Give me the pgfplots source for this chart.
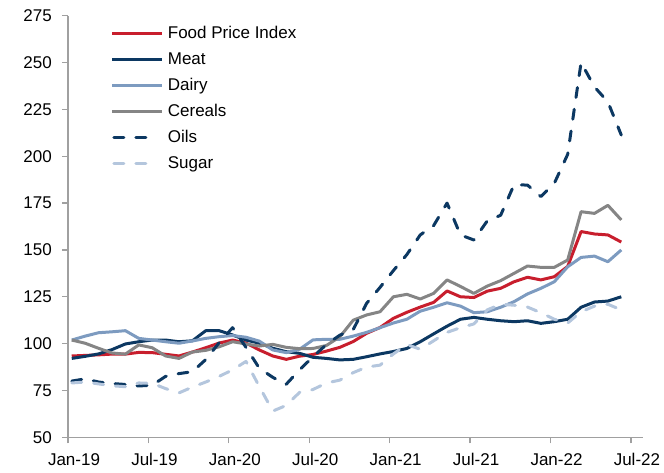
\documentclass[border=0pt]{standalone}
\usepackage{pgfplots}
\pgfplotsset{compat=1.18}
\usepackage{pgfplotstable}
\usepackage{fontspec}
\setmainfont{Liberation Sans}
\definecolor{cfpi}{RGB}{200,30,45}
\definecolor{cnavy}{RGB}{12,56,98}
\definecolor{cdairy}{RGB}{125,155,192}
\definecolor{cgrey}{RGB}{133,133,133}
\definecolor{csugar}{RGB}{180,198,221}
\definecolor{caxis}{RGB}{160,160,160}
\pgfplotsset{dashleg/.style={legend image code/.code={\draw[##1] (1.5bp,0bp) -- (36bp,0bp); \path (50bp,0bp);}}}

\pgfplotstableread{
i  FPI    Meat   Dairy  Cereals Oils   Sugar
0  93.4   92.1   101.9  101.9   80.0   79.0
1  93.7   93.2   104.0  100.2   81.2   79.5
2  94.0   94.5   105.8  97.5    79.5   78.5
3  94.4   96.8   106.3  95.0    78.7   77.5
4  94.4   99.8   106.9  94.4    78.2   77.0
5  95.3   101.0  102.8  99.3    77.4   79.0
6  95.2   101.9  101.9  97.8    77.8   78.8
7  94.3   101.9  101.0  93.4    82.5   76.0
8  93.4   101.0  100.2  92.1    84.0   73.7
9  95.5   101.5  101.4  95.5    85.0   76.8
10 97.8   106.9  102.8  96.4    91.5   79.5
11 100.3  106.9  103.7  98.3    100.5  82.5
12 101.9  104.6  104.3  101.0   108.5  86.0
13 100.3  101.9  103.4  99.8    98.0   90.5
14 96.6   100.2  101.3  98.7    86.8   77.0
15 93.4   97.5   96.6   99.6    82.0   64.0
16 91.6   95.7   95.2   98.0    78.3   67.0
17 93.3   94.8   97.0   97.3    86.0   74.0
18 94.2   92.7   102.0  97.4    93.0   75.5
19 96.0   92.1   102.3  99.0    99.5   79.0
20 98.0   91.3   102.3  103.6   104.5  80.5
21 101.1  91.6   104.0  112.5   107.5  84.5
22 105.5  93.0   106.0  115.3   121.5  87.5
23 108.6  94.5   108.5  117.0   130.0  88.5
24 113.5  95.8   111.0  125.0   139.0  94.5
25 116.7  97.4   113.0  126.3   147.5  99.5
26 119.5  101.0  117.3  123.8   158.0  97.0
27 122.0  105.2  119.4  126.8   163.0  101.5
28 128.1  109.3  121.8  134.0   175.0  106.0
29 125.0  113.0  120.0  130.5   158.0  108.5
30 124.6  114.0  116.5  126.8   155.3  110.5
31 128.0  113.0  117.0  130.7   165.5  118.0
32 129.5  112.2  119.4  133.6   168.5  121.0
33 133.0  111.7  122.4  137.5   184.8  120.5
34 135.4  112.2  126.5  141.4   184.6  119.5
35 134.0  110.8  129.5  140.7   178.5  116.5
36 135.7  111.7  133.0  140.7   185.5  113.0
37 141.2  113.0  141.0  144.6   201.0  111.0
38 159.8  119.4  146.0  170.4   250.0  117.0
39 158.5  122.2  146.7  169.5   237.0  120.0
40 158.0  122.7  143.7  173.8   229.0  121.0
41 154.2  125.0  150.0  166.0   211.3  118.0
}\datatable

\begin{document}
\begin{tikzpicture}
\useasboundingbox (0,0) rectangle (664bp,473bp);
\begin{axis}[
  at={(68bp,35.7bp)}, anchor=south west,
  scale only axis, width=575bp, height=421.6bp,
  xmin=0, xmax=42.9, ymin=50, ymax=275,
  axis lines*=left,
  axis line style={caxis, line width=1.3bp, -},
  tick style={caxis, line width=1.3bp},
  tick align=outside,
  major tick length=6bp,
  xtick={0,6,...,42},
  xticklabels={Jan-19,Jul-19,Jan-20,Jul-20,Jan-21,Jul-21,Jan-22,Jul-22},
  ytick={50,75,...,275},
  /pgf/number format/assume math mode=true,
  ticklabel style={font=\fontsize{17bp}{20bp}\selectfont, text=black},
  xticklabel style={inner sep=0pt, xshift=6bp, yshift=-10bp},
  yticklabel style={inner sep=0pt, xshift=-10bp},
  clip=false,
  legend cell align=left,
  legend style={draw=none, fill=none, at={(axis description cs:0.069,0.981)},
    anchor=north west, font=\fontsize{17bp}{20bp}\selectfont,
    nodes={inner sep=0pt, text height=12.5bp, text depth=3.5bp},
    row sep=10bp, column sep=4bp},
  legend image code/.code={\draw[#1] (0bp,0bp) -- (50bp,0bp);},
  every axis plot/.append style={line width=3bp, line join=round},
]
\addplot[cfpi] table[x expr=\thisrow{i}+0.28, y=FPI] {\datatable};
\addlegendentry{Food Price Index}
\addplot[cnavy] table[x expr=\thisrow{i}+0.28, y=Meat] {\datatable};
\addlegendentry{Meat}
\addplot[cdairy] table[x expr=\thisrow{i}+0.28, y=Dairy] {\datatable};
\addlegendentry{Dairy}
\addplot[cgrey] table[x expr=\thisrow{i}+0.28, y=Cereals] {\datatable};
\addlegendentry{Cereals}
\addplot[cnavy, line cap=round, dash pattern=on 10bp off 12bp, dashleg]
  table[x expr=\thisrow{i}+0.28, y=Oils] {\datatable};
\addlegendentry{Oils}
\addplot[csugar, line cap=round, dash pattern=on 10bp off 12bp, dashleg]
  table[x expr=\thisrow{i}+0.28, y=Sugar] {\datatable};
\addlegendentry{Sugar}
\end{axis}
\end{tikzpicture}
\end{document}
